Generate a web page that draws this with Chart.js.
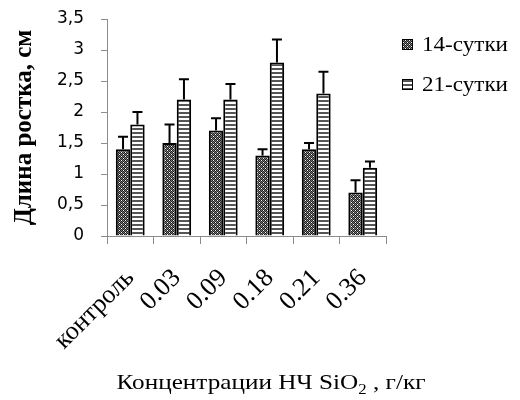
<!DOCTYPE html>
<html>
<head>
<meta charset="utf-8">
<script src="https://cdn.jsdelivr.net/npm/chart.js@4"></script>
<style>
  html, body { margin: 0; padding: 0; background: #fff; }
  #wrap { width: 520px; height: 400px; }
</style>
</head>
<body>
<div id="wrap"><canvas id="growthChart" width="520" height="400"></canvas></div>
<script>
// данные
const categories = ['контроль', '0.03', '0.09', '0.18', '0.21', '0.36'];
const day14 = [1.4, 1.5, 1.7, 1.3, 1.4, 0.7];
const day14Err = [0.2, 0.3, 0.2, 0.1, 0.1, 0.2];
const day21 = [1.8, 2.2, 2.2, 2.8, 2.3, 1.1];
const day21Err = [0.2, 0.33, 0.25, 0.37, 0.35, 0.1];
const yTicks = [0, 0.5, 1, 1.5, 2, 2.5, 3, 3.5];

const SERIF = '"Liberation Serif", "Times New Roman", serif';

// штриховки как в Excel
function makePattern(kind) {
    const c = document.createElement('canvas');
    c.width = 4; c.height = 4;
    const g = c.getContext('2d');
    g.fillStyle = '#ffffff';
    g.fillRect(0, 0, 4, 4);
    if (kind === 'dots') {
        for (let y = 0; y < 4; y++) {
            for (let x = 0; x < 4; x++) {
                g.fillStyle = (x + y) % 2 === 0 ? '#1e1e1e' : '#7a7a7a';
                g.fillRect(x, y, 1, 1);
            }
        }
        g.fillStyle = '#ffffff';
        g.fillRect(1, 0, 1, 1);
        g.fillRect(3, 2, 1, 1);
    } else {
        g.fillStyle = '#555555';
        g.fillRect(0, 0, 4, 2);
    }
    return g.createPattern(c, 'repeat');
}

const errorBars = {
    id: 'errorBars',
    afterDatasetsDraw(chart) {
        const ctx = chart.ctx;
        const yScale = chart.scales.y;
        ctx.save();
        ctx.strokeStyle = '#000';
        ctx.lineWidth = 2;
        chart.data.datasets.forEach((ds, i) => {
            const meta = chart.getDatasetMeta(i);
            meta.data.forEach((bar, j) => {
                const top = yScale.getPixelForValue(ds.data[j] + ds.errors[j]);
                ctx.beginPath();
                ctx.moveTo(bar.x, bar.y);
                ctx.lineTo(bar.x, top);
                ctx.moveTo(bar.x - 5, top);
                ctx.lineTo(bar.x + 5, top);
                ctx.stroke();
            });
        });
        ctx.restore();
    }
};

// легенда справа и подпись оси X (с нижним индексом)
const extraText = {
    id: 'extraText',
    afterDraw(chart) {
        const ctx = chart.ctx;
        ctx.save();
        ctx.textBaseline = 'middle';
        chart.data.datasets.forEach((ds, i) => {
            const y = 44 + i * 40;
            ctx.fillStyle = ds.backgroundColor;
            ctx.fillRect(402, y - 5, 11, 11);
            ctx.strokeStyle = '#000';
            ctx.lineWidth = 1;
            ctx.strokeRect(402.5, y - 4.5, 10, 10);
            ctx.save();
            ctx.translate(422, y + 1);
            ctx.scale(1.1, 1);
            ctx.fillStyle = '#000';
            ctx.font = '21px ' + SERIF;
            ctx.fillText(ds.label, 0, 0);
            ctx.restore();
        });

        ctx.textBaseline = 'alphabetic';
        ctx.fillStyle = '#000';
        const parts = [['Концентрации НЧ SiO', 21, 0], ['2', 14, 5], [' , г/кг', 21, 0]];
        const sx = 1.2;
        let total = 0;
        parts.forEach(p => { ctx.font = p[1] + 'px ' + SERIF; total += ctx.measureText(p[0]).width; });
        ctx.translate(271 - total * sx / 2, 389);
        ctx.scale(sx, 1);
        let x = 0;
        parts.forEach(p => {
            ctx.font = p[1] + 'px ' + SERIF;
            ctx.fillText(p[0], x, p[2]);
            x += ctx.measureText(p[0]).width;
        });
        ctx.restore();
    }
};

const ctx = document.getElementById('growthChart').getContext('2d');

const growthChart = new Chart(ctx, {
    type: 'bar',
    data: {
        labels: categories,
        datasets: [
            {
                label: '14-сутки',
                data: day14,
                errors: day14Err,
                backgroundColor: makePattern('dots'),
                borderColor: '#000',
                borderWidth: 2
            },
            {
                label: '21-сутки',
                data: day21,
                errors: day21Err,
                backgroundColor: makePattern('stripes'),
                borderColor: '#000',
                borderWidth: 2
            }
        ]
    },
    options: {
        responsive: false,
        animation: false,
        layout: { padding: { top: 0, right: 134, left: 0, bottom: 0 } },
        datasets: { bar: { categoryPercentage: 0.62, barPercentage: 1 } },
        plugins: {
            legend: { display: false },
            tooltip: { enabled: false }
        },
        scales: {
            x: {
                afterFit: (s) => { s.height = 164; },
                grid: { display: true, offset: true, drawOnChartArea: false, drawTicks: true, tickLength: 8, color: '#8c8c8c' },
                border: { color: '#8c8c8c' },
                ticks: {
                    color: '#000',
                    autoSkip: false,
                    maxRotation: 45,
                    minRotation: 45,
                    padding: 19,
                    font: { family: SERIF, size: 26 }
                }
            },
            y: {
                min: 0,
                max: 3.5,
                afterFit: (s) => { s.width = 107; s.paddingTop = 19; s.paddingBottom = 0; },
                afterBuildTicks: (s) => { s.ticks = yTicks.map(v => ({ value: v })); },
                grid: { drawOnChartArea: false, drawTicks: true, tickLength: 6, color: '#8c8c8c' },
                border: { color: '#8c8c8c' },
                ticks: {
                    color: '#000',
                    padding: 17,
                    font: { family: '"DejaVu Sans", sans-serif', size: 17 },
                    callback: (v) => String(v).replace('.', ',')
                },
                title: {
                    display: true,
                    text: 'Длина ростка, см',
                    color: '#000',
                    padding: { top: 10, bottom: 0 },
                    font: { family: SERIF, size: 25, weight: 'bold' }
                }
            }
        }
    },
    plugins: [errorBars, extraText]
});
</script>
</body>
</html>
